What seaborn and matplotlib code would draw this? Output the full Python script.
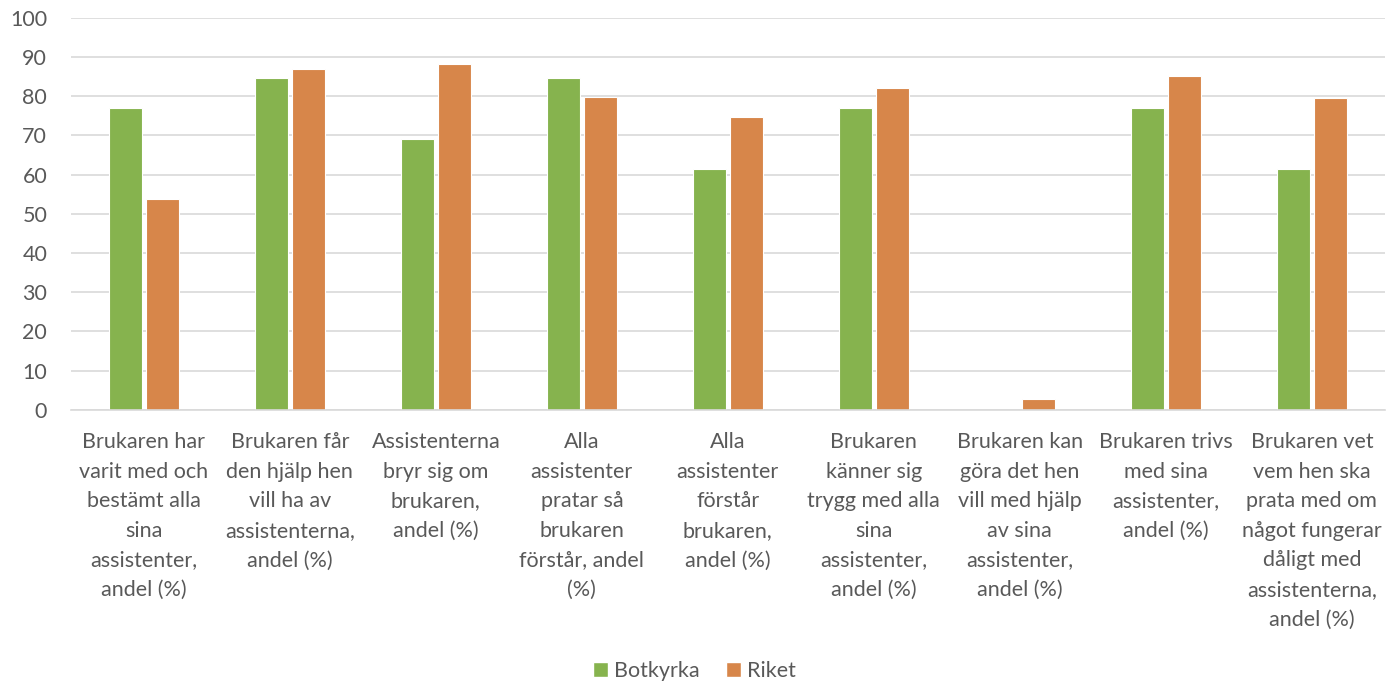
import numpy as np
import pandas as pd
import seaborn as sns
import matplotlib.pyplot as plt
from matplotlib.patches import Patch

categories = [
    "Brukaren har\nvarit med och\nbestämt alla\nsina\nassistenter,\nandel (%)",
    "Brukaren får\nden hjälp hen\nvill ha av\nassistenterna,\nandel (%)",
    "Assistenterna\nbryr sig om\nbrukaren,\nandel (%)",
    "Alla\nassistenter\npratar så\nbrukaren\nförstår, andel\n(%)",
    "Alla\nassistenter\nförstår\nbrukaren,\nandel (%)",
    "Brukaren\nkänner sig\ntrygg med alla\nsina\nassistenter,\nandel (%)",
    "Brukaren kan\ngöra det hen\nvill med hjälp\nav sina\nassistenter,\nandel (%)",
    "Brukaren trivs\nmed sina\nassistenter,\nandel (%)",
    "Brukaren vet\nvem hen ska\nprata med om\nnågot fungerar\ndåligt med\nassistenterna,\nandel (%)",
]
botkyrka = [76.9, 84.6, 69.2, 84.6, 61.5, 76.9, np.nan, 76.9, 61.5]
riket = [53.7, 86.9, 88.2, 79.8, 74.6, 82.0, 2.8, 85.1, 79.6]
series = ["Botkyrka", "Riket"]
colors = ["#86B34E", "#D7864A"]

df = pd.DataFrame({
    "kat": categories * 2,
    "serie": [series[0]] * 9 + [series[1]] * 9,
    "varde": botkyrka + riket,
})

sns.set_theme(style="white")
plt.rcParams['font.family'] = ['Lato', 'DejaVu Sans']
txt = "#595959"
fs = 15.5

fig = plt.figure(figsize=(13.89, 6.83), dpi=100)
ax = fig.add_axes([0.051, 0.400, 0.946, 0.574])
sns.barplot(data=df, x="kat", y="varde", hue="serie", order=categories,
            hue_order=series, palette=colors, saturation=1, width=0.51, gap=0.12,
            edgecolor="white", linewidth=0.8, errorbar=None, legend=False, ax=ax)

ax.set_ylim(0, 100)
ax.set_xlim(-0.5, 8.5)
ax.set_yticks(range(0, 101, 10))
ax.yaxis.grid(True, color="#D9D9D9", linewidth=1.2)
ax.set_axisbelow(True)
for s in ["top", "right", "left"]:
    ax.spines[s].set_visible(False)
ax.spines["bottom"].set_color("#D9D9D9")
ax.spines["bottom"].set_linewidth(1.2)
ax.set_xlabel("")
ax.set_ylabel("")
ax.tick_params(axis="both", length=0, labelsize=fs, labelcolor=txt)
ax.tick_params(axis="y", pad=17)
ax.tick_params(axis="x", pad=16)
for lab in ax.get_xticklabels():
    lab.set_linespacing(1.6)

handles = [Patch(facecolor=c, label=s) for s, c in zip(series, colors)]
fig.legend(handles=handles, loc="center", bbox_to_anchor=(0.5, 0.017), ncol=2,
           frameon=False, fontsize=fs, labelcolor=txt, handlelength=0.7,
           handleheight=0.7, handletextpad=0.3, columnspacing=1.2)

fig.savefig("out.png", dpi=100, facecolor="white")
